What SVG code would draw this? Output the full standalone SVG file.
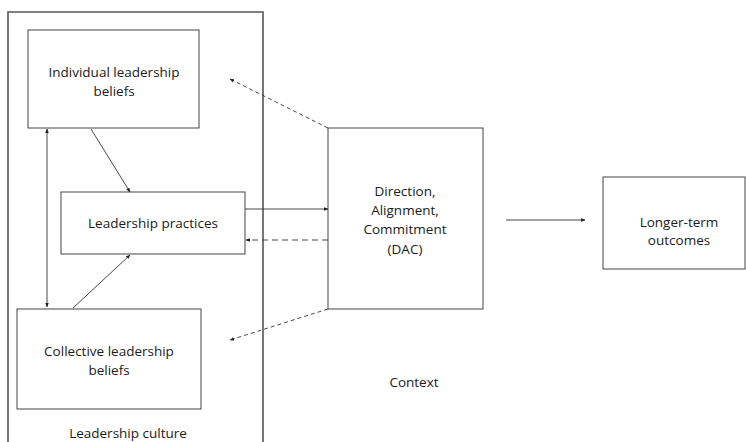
<svg xmlns="http://www.w3.org/2000/svg" width="746" height="442" viewBox="0 0 746 442">
<defs>
<style>
.box{fill:#fff;stroke:#444;stroke-width:1}
.t{font-family:"Open Sans","Liberation Sans",sans-serif;font-size:13.5px;fill:#1a1a1a;text-anchor:middle}
.c{stroke:#333;stroke-width:0.9;fill:none}
.d{stroke-dasharray:4,3}
.d2{stroke-dasharray:6,4}
</style>
<marker id="ah" viewBox="0 0 10 10" refX="9" refY="5" markerWidth="5" markerHeight="5" orient="auto-start-reverse">
<path d="M0,1 L10,5 L0,9 z" fill="#222"/>
</marker>
</defs>
<rect width="746" height="442" fill="#fff"/>
<g id="leadership-culture">
<path d="M8,442 V12 H263 V442" fill="none" stroke="#555" stroke-width="1.6"/>
<text class="t" x="128" y="438">Leadership culture</text>
</g>
<g id="individual">
<rect class="box" x="28" y="30" width="171" height="98"/>
<text class="t" x="114" y="77">Individual leadership</text>
<text class="t" x="114" y="96">beliefs</text>
</g>
<g id="practices">
<rect class="box" x="61" y="192" width="184" height="62"/>
<text class="t" x="153" y="228">Leadership practices</text>
</g>
<g id="collective">
<rect class="box" x="17" y="309" width="184" height="100"/>
<text class="t" x="109" y="356">Collective leadership</text>
<text class="t" x="109" y="375">beliefs</text>
</g>
<g id="dac">
<rect class="box" x="328" y="128" width="155" height="181"/>
<text class="t" x="405" y="196">Direction,</text>
<text class="t" x="405" y="215">Alignment,</text>
<text class="t" x="405" y="234">Commitment</text>
<text class="t" x="405" y="254">(DAC)</text>
</g>
<g id="outcomes">
<rect class="box" x="603" y="177" width="142" height="92"/>
<text class="t" x="679" y="227">Longer-term</text>
<text class="t" x="679" y="245">outcomes</text>
</g>
<g id="context">
<text class="t" x="414" y="387">Context</text>
</g>
<g id="connectors">
<line class="c" x1="47" y1="129" x2="47" y2="307" marker-start="url(#ah)" marker-end="url(#ah)"/>
<line class="c" x1="91" y1="129" x2="130" y2="192" marker-end="url(#ah)"/>
<line class="c" x1="73" y1="308" x2="130" y2="255" marker-end="url(#ah)"/>
<line class="c" x1="245" y1="209" x2="328" y2="209" marker-end="url(#ah)"/>
<line class="c d2" x1="328" y1="240" x2="246" y2="240" marker-end="url(#ah)"/>
<line class="c d" x1="328" y1="128" x2="230" y2="79" marker-end="url(#ah)"/>
<line class="c d" x1="328" y1="309" x2="230" y2="340" marker-end="url(#ah)"/>
<line class="c" x1="506" y1="220" x2="585" y2="220" marker-end="url(#ah)"/>
</g>
</svg>
